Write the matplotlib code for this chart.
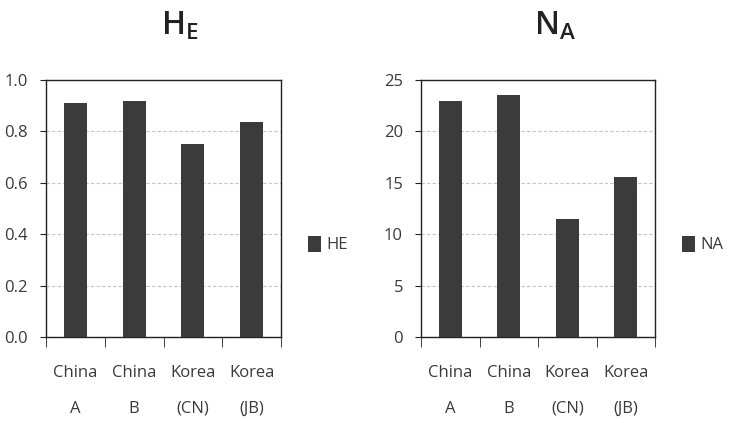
import numpy as np
import matplotlib.pyplot as plt

categories = ["China\n\nA", "China\n\nB", "Korea\n\n(CN)", "Korea\n\n(JB)"]
he_values = [0.91, 0.918, 0.752, 0.835]
na_values = [23.0, 23.5, 11.5, 15.6]

bar_color = "#3b3b3b"
text_color = "#3a3a3a"

fig = plt.figure(figsize=(7.31, 4.23), dpi=100)
plt.rcParams['font.family'] = ['Open Sans', 'DejaVu Sans']


def draw(ax, values, ymax, yticks, fmt, name):
    x = np.arange(len(values))
    ax.bar(x, values, width=0.39, color=bar_color, label=name, zorder=3)
    ax.set_xlim(-0.5, len(values) - 0.5)
    ax.set_ylim(0, ymax)
    ax.set_yticks(yticks)
    ax.set_yticklabels([fmt.format(v) for v in yticks], fontsize=12, color=text_color)
    ax.set_xticks(x)
    ax.set_xticklabels(categories, fontsize=12, color=text_color, linespacing=1.16)
    ax.set_xticks(np.arange(len(values) + 1) - 0.5, minor=True)
    ax.tick_params(axis="x", which="major", length=0, pad=20)
    ax.tick_params(axis="x", which="minor", length=7, direction="out", color="#222222")
    ax.tick_params(axis="y", length=4, pad=9, color="#222222")
    ax.grid(axis="y", color="#c4c4c4", linestyle=(0, (3, 2)), linewidth=0.8, zorder=0)
    for s in ax.spines.values():
        s.set_color("#222222")
        s.set_linewidth(1.0)
    ax.legend(loc="center left", bbox_to_anchor=(1.05, 0.36), frameon=False,
              fontsize=12, handlelength=0.8, handleheight=1.1, handletextpad=0.3,
              labelcolor=text_color)


ax1 = fig.add_axes([46 / 731, 1 - 337 / 423, 235 / 731, 257 / 423])
draw(ax1, he_values, 1.0, [0.0, 0.2, 0.4, 0.6, 0.8, 1.0], "{:.1f}", "HE")

ax2 = fig.add_axes([421 / 731, 1 - 337 / 423, 234 / 731, 257 / 423])
draw(ax2, na_values, 25, [0, 5, 10, 15, 20, 25], "{:d}", "NA")

fig.text(180 / 731, 1 - 35 / 423, r"$\mathregular{H_E}$", fontsize=23,
         ha="center", va="baseline", color="#222222", fontweight="semibold")
fig.text(555 / 731, 1 - 35 / 423, r"$\mathregular{N_A}$", fontsize=23,
         ha="center", va="baseline", color="#222222", fontweight="semibold")

fig.savefig("out.png", dpi=100)
